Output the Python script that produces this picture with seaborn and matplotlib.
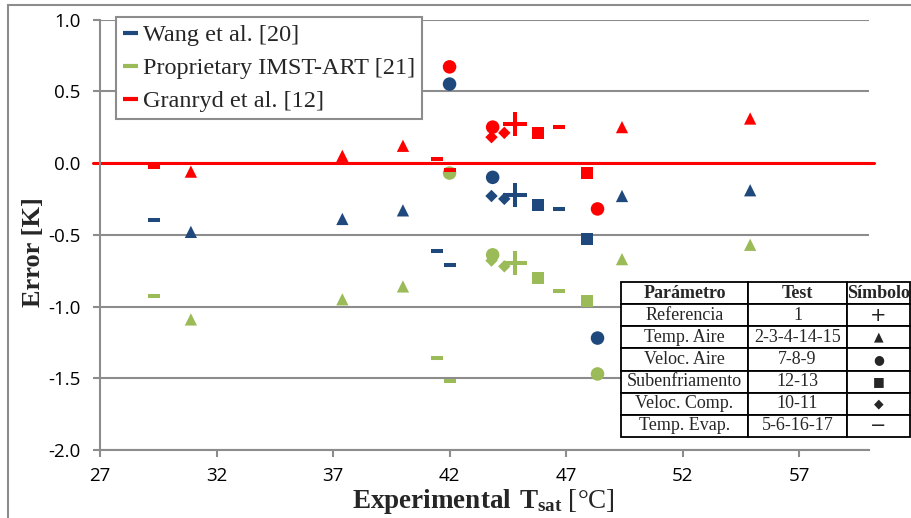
import numpy as np
import pandas as pd
import matplotlib
matplotlib.use("Agg")
import matplotlib.pyplot as plt
import seaborn as sns
from matplotlib.lines import Line2D
from matplotlib.patches import Rectangle

# Values
tsat = [29.3, 30.9, 37.4, 40.0, 41.45, 42.0, 42.0, 43.85, 43.8, 44.35,
        44.8, 45.8, 46.7, 47.9, 48.35, 49.4, 54.9]
test_type = ["evap", "tair", "tair", "tair", "evap", "evap", "vair", "vair", "vcomp", "vcomp",
             "ref", "sub", "evap", "sub", "vair", "tair", "tair"]
wang = [-0.40, -0.48, -0.39, -0.33, -0.61, -0.71, 0.55, -0.10, -0.23, -0.25,
        -0.22, -0.29, -0.32, -0.53, -1.22, -0.23, -0.19]
imst = [-0.93, -1.09, -0.95, -0.86, -1.36, -1.52, -0.07, -0.64, -0.68, -0.72,
        -0.70, -0.80, -0.89, -0.96, -1.47, -0.67, -0.57]
granryd = [-0.03, -0.06, 0.05, 0.12, 0.03, -0.05, 0.67, 0.25, 0.18, 0.21,
           0.27, 0.21, 0.25, -0.07, -0.32, 0.25, 0.31]

models = ["Wang et al. [20]", "Proprietary IMST-ART [21]", "Granryd et al. [12]"]
colors = ["#1F497D", "#9BBB59", "#FF0000"]

table_header = ["Parámetro", "Test", "Símbolo"]
table_param = ["Referencia", "Temp. Aire", "Veloc. Aire", "Subenfriamento", "Veloc. Comp.", "Temp. Evap."]
table_tests = ["1", "2-3-4-14-15", "7-8-9", "12-13", "10-11", "5-6-16-17"]
table_symbols = ["+", "▲", "●", "■", "◆", "−"]

df = pd.DataFrame({
    "Tsat": tsat * 3,
    "Error": wang + imst + granryd,
    "Model": np.repeat(models, len(tsat)),
    "Test": test_type * 3,
})

sns.set_style("white")
plt.rcParams["axes.unicode_minus"] = False
plt.rcParams["mathtext.fontset"] = "custom"
plt.rcParams["mathtext.rm"] = "Liberation Serif"
plt.rcParams["mathtext.bf"] = "Liberation Serif:bold"

fig = plt.figure(figsize=(9.11, 5.18), dpi=100)
ax = fig.add_axes([100 / 911, 1 - 450 / 518, 769 / 911, 430.5 / 518])

gray = "#8C8C8C"

# marker, size, line width per test group
marker_styles = {
    "ref": ("+", 280, 2.9),
    "tair": ("^", 78, 0),
    "vair": ("o", 95, 0),
    "sub": ("s", 72, 0),
    "vcomp": ("D", 40, 0),
    "evap": ("_", 80, 2.9),
}

ax.axhline(0, xmin=-0.009, xmax=1.007, color="#FF0000", lw=2.2, zorder=2, clip_on=False)

for model, color in zip(models, colors):
    for t, (m, s, lw) in marker_styles.items():
        sub = df[(df["Model"] == model) & (df["Test"] == t)]
        if m in ("+", "_"):
            sns.scatterplot(data=sub, x="Tsat", y="Error", marker=m, s=s, color=color,
                            linewidth=lw, ax=ax, zorder=3, legend=False)
        else:
            sns.scatterplot(data=sub, x="Tsat", y="Error", marker=m, s=s, color=color,
                            linewidth=0, edgecolor="none", ax=ax, zorder=3, legend=False)

ax.set_xlim(27, 60)
ax.set_ylim(-2, 1)
ax.set_xticks(range(27, 60, 5))
ax.set_yticks(np.arange(-2, 1.01, 0.5))
ax.set_yticklabels([f"{v:.1f}" for v in np.arange(-2, 1.01, 0.5)])

ax.yaxis.grid(True, color=gray, lw=1.5, zorder=0)
ax.xaxis.grid(False)
for side in ["top", "right"]:
    ax.spines[side].set_visible(False)
for side in ["left", "bottom"]:
    ax.spines[side].set_color(gray)
    ax.spines[side].set_linewidth(1.5)

ax.tick_params(axis="both", direction="out", length=5, width=1.5, color=gray,
               labelsize=13.5, labelcolor="black")
ax.tick_params(axis="y", pad=9, left=True)
ax.tick_params(axis="x", pad=7, bottom=True)
for lab in ax.get_xticklabels() + ax.get_yticklabels():
    lab.set_fontfamily("Open Sans")

ax.set_xlabel(r"$\mathbf{Experimental\ T_{sat}}$ [°C]", fontsize=19.5, family="Liberation Serif")
ax.set_ylabel("Error [K]", fontsize=19, fontweight="bold", family="Liberation Serif")
ax.xaxis.set_label_coords(0.499, -0.086)
ax.yaxis.set_label_coords(-0.071, 0.46)

handles = [Line2D([], [], color=c, lw=3, solid_capstyle="butt") for c in colors]
leg = ax.legend(handles, models, loc="upper left", bbox_to_anchor=(0.0208, 1.006),
                borderaxespad=0, frameon=True, fancybox=False, framealpha=1,
                handlelength=0.6, handletextpad=0.2, labelspacing=0.45, borderpad=0.3,
                prop={"family": "Liberation Serif", "size": 17.5})
leg.get_frame().set_edgecolor(gray)
leg.get_frame().set_linewidth(1.5)
leg.set_zorder(6)

rows = [[p, t, s] for p, t, s in zip(table_param, table_tests, table_symbols)]
tbl = ax.table(cellText=rows, colLabels=table_header, cellLoc="center",
               colWidths=[127 / 289, 99 / 289, 63 / 289],
               bbox=[0.6775, 0.0302, 0.3758, 0.36])
tbl.auto_set_font_size(False)
tbl.set_fontsize(13)
tbl.set_zorder(7)
for (r, c), cell in tbl.get_celld().items():
    cell.set_edgecolor("black")
    cell.set_linewidth(1.3)
    cell.set_facecolor("white")
    cell.set_clip_on(False)
    txt = cell.get_text()
    txt.set_fontfamily("Liberation Serif")
    if r == 0:
        txt.set_fontweight("bold")
    elif c == 2:
        txt.set_fontfamily("DejaVu Sans")
        txt.set_fontsize(14 if table_symbols[r - 1] in ("+", "−") else 9)

fig.patches.append(Rectangle((8 / 911, -0.1), 1.2, 1.1 - 5 / 518, transform=fig.transFigure,
                             fill=False, edgecolor="#8C8C8C", lw=1.5))

fig.savefig("out.png", dpi=100)
